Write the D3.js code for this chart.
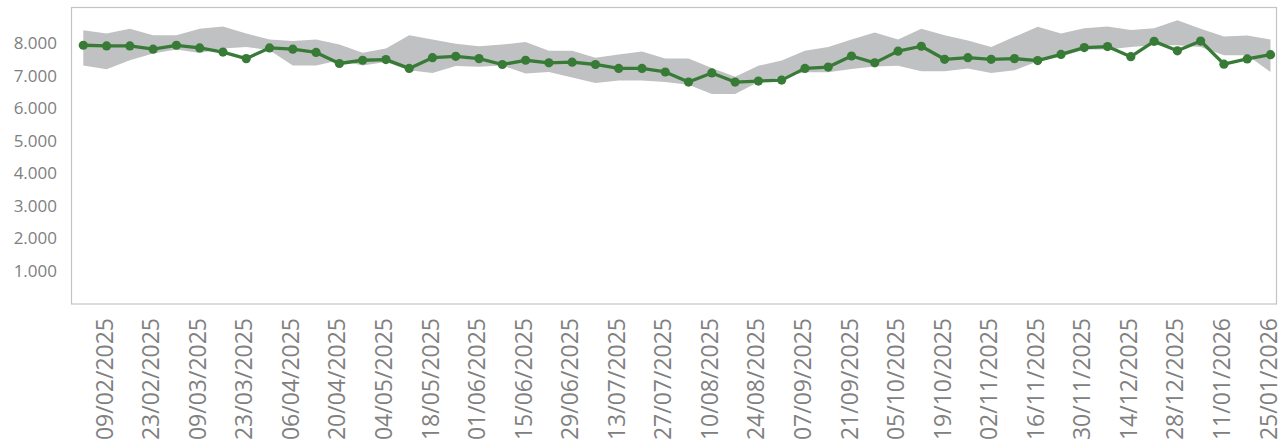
<!DOCTYPE html>
<html>
<head>
<meta charset="utf-8">
<script src="https://cdn.jsdelivr.net/npm/d3@7"></script>
<style>
  html, body { margin: 0; padding: 0; background: #ffffff; }
  svg { display: block; }
</style>
</head>
<body>
<div id="chart"></div>
<script>
// ---- data ----
const dates = [
  "02/02/2025","09/02/2025","16/02/2025","23/02/2025","02/03/2025","09/03/2025","16/03/2025","23/03/2025",
  "30/03/2025","06/04/2025","13/04/2025","20/04/2025","27/04/2025","04/05/2025","11/05/2025","18/05/2025",
  "25/05/2025","01/06/2025","08/06/2025","15/06/2025","22/06/2025","29/06/2025","06/07/2025","13/07/2025",
  "20/07/2025","27/07/2025","03/08/2025","10/08/2025","17/08/2025","24/08/2025","31/08/2025","07/09/2025",
  "14/09/2025","21/09/2025","28/09/2025","05/10/2025","12/10/2025","19/10/2025","26/10/2025","02/11/2025",
  "09/11/2025","16/11/2025","23/11/2025","30/11/2025","07/12/2025","14/12/2025","21/12/2025","28/12/2025",
  "04/01/2026","11/01/2026","18/01/2026","25/01/2026"
];
const values = [
  7930, 7910, 7910, 7810, 7930, 7850, 7720, 7520, 7850, 7810, 7710, 7370, 7470,
  7490, 7220, 7550, 7590, 7520, 7340, 7470, 7390, 7410, 7340, 7220, 7220, 7110,
  6800, 7080, 6800, 6830, 6860, 7220, 7260, 7600, 7390, 7750, 7900, 7500, 7550,
  7500, 7520, 7460, 7650, 7860, 7890, 7580, 8050, 7760, 8060, 7350, 7510, 7640
];
const bandUpper = [
  8390, 8290, 8440, 8240, 8240, 8440, 8510, 8290, 8110, 8060, 8110, 7950, 7700,
  7830, 8240, 8110, 7980, 7900, 7950, 8030, 7760, 7760, 7550, 7650, 7740, 7520,
  7520, 7230, 6960, 7300, 7460, 7760, 7880, 8110, 8320, 8110, 8440, 8240, 8080,
  7880, 8190, 8500, 8290, 8450, 8510, 8400, 8450, 8700, 8440, 8200, 8230, 8110
];
const bandLower = [
  7310, 7190, 7470, 7680, 7800, 7690, 7830, 7880, 7780, 7310, 7310, 7470, 7310,
  7420, 7160, 7080, 7290, 7270, 7310, 7060, 7110, 6940, 6770, 6850, 6850, 6800,
  6720, 6430, 6430, 6800, 6950, 7100, 7100, 7200, 7280, 7300, 7130, 7130, 7220,
  7080, 7160, 7440, 7580, 7800, 7800, 7880, 7930, 7930, 7880, 7620, 7620, 7110
];
const tickDates = [
  "09/02/2025","23/02/2025","09/03/2025","23/03/2025","06/04/2025","20/04/2025","04/05/2025",
  "18/05/2025","01/06/2025","15/06/2025","29/06/2025","13/07/2025","27/07/2025","10/08/2025",
  "24/08/2025","07/09/2025","21/09/2025","05/10/2025","19/10/2025","02/11/2025","16/11/2025",
  "30/11/2025","14/12/2025","28/12/2025","11/01/2026","25/01/2026"
];
const yTickValues = [1000, 2000, 3000, 4000, 5000, 6000, 7000, 8000];

// ---- layout ----
const W = 1282, H = 445;
const frame = { left: 71.5, top: 7.5, right: 1276.5, bottom: 304 };

const svg = d3.select("#chart").append("svg")
  .attr("width", W).attr("height", H);

const x = d3.scalePoint().domain(dates).range([83.3, 1270.5]).padding(0);
const y = d3.scaleLinear().domain([0, 9090]).range([303.5, frame.top]);

const fmt = d3.formatLocale({ decimal: ",", thousands: ".", grouping: [3], currency: ["", ""] }).format(",");

const rows = dates.map((d, i) => ({ d, v: values[i], hi: bandUpper[i], lo: bandLower[i] }));

// frame
svg.append("rect")
  .attr("x", frame.left).attr("y", frame.top)
  .attr("width", frame.right - frame.left).attr("height", frame.bottom - frame.top)
  .attr("fill", "none").attr("stroke", "#c4c4c4").attr("stroke-width", 1.2);

// band
svg.append("path")
  .datum(rows)
  .attr("fill", "#c0c1c3")
  .attr("d", d3.area().x(r => x(r.d)).y0(r => y(r.lo)).y1(r => y(r.hi)));

// line
svg.append("path")
  .datum(rows)
  .attr("fill", "none")
  .attr("stroke", "#377b37")
  .attr("stroke-width", 3.3)
  .attr("stroke-linejoin", "round")
  .attr("d", d3.line().x(r => x(r.d)).y(r => y(r.v)));

svg.append("g").selectAll("circle")
  .data(rows).join("circle")
  .attr("cx", r => x(r.d)).attr("cy", r => y(r.v))
  .attr("r", 4.6).attr("fill", "#377b37");

// y axis (labels only)
const yAxis = d3.axisLeft(y).tickValues(yTickValues).tickFormat(fmt).tickSize(0).tickPadding(0);
const gy = svg.append("g").attr("transform", `translate(57,0)`).call(yAxis);
gy.select(".domain").remove();
gy.selectAll("text")
  .attr("fill", "#808080")
  .style("font-family", "'Open Sans', sans-serif")
  .style("font-size", "17px");

// x axis (rotated labels)
const xAxis = d3.axisBottom(x).tickValues(tickDates).tickSize(0).tickPadding(0);
const gx = svg.append("g").attr("transform", `translate(0,318)`).call(xAxis);
gx.select(".domain").remove();
gx.selectAll("text")
  .attr("fill", "#808080")
  .style("font-family", "'Open Sans', sans-serif")
  .style("font-size", "23px")
  .attr("text-anchor", "end")
  .attr("transform", "translate(-2.5,0) rotate(-90)")
  .attr("x", 0)
  .attr("y", 0)
  .attr("dy", "0.35em")
  .attr("dx", 0);
</script>
</body>
</html>
